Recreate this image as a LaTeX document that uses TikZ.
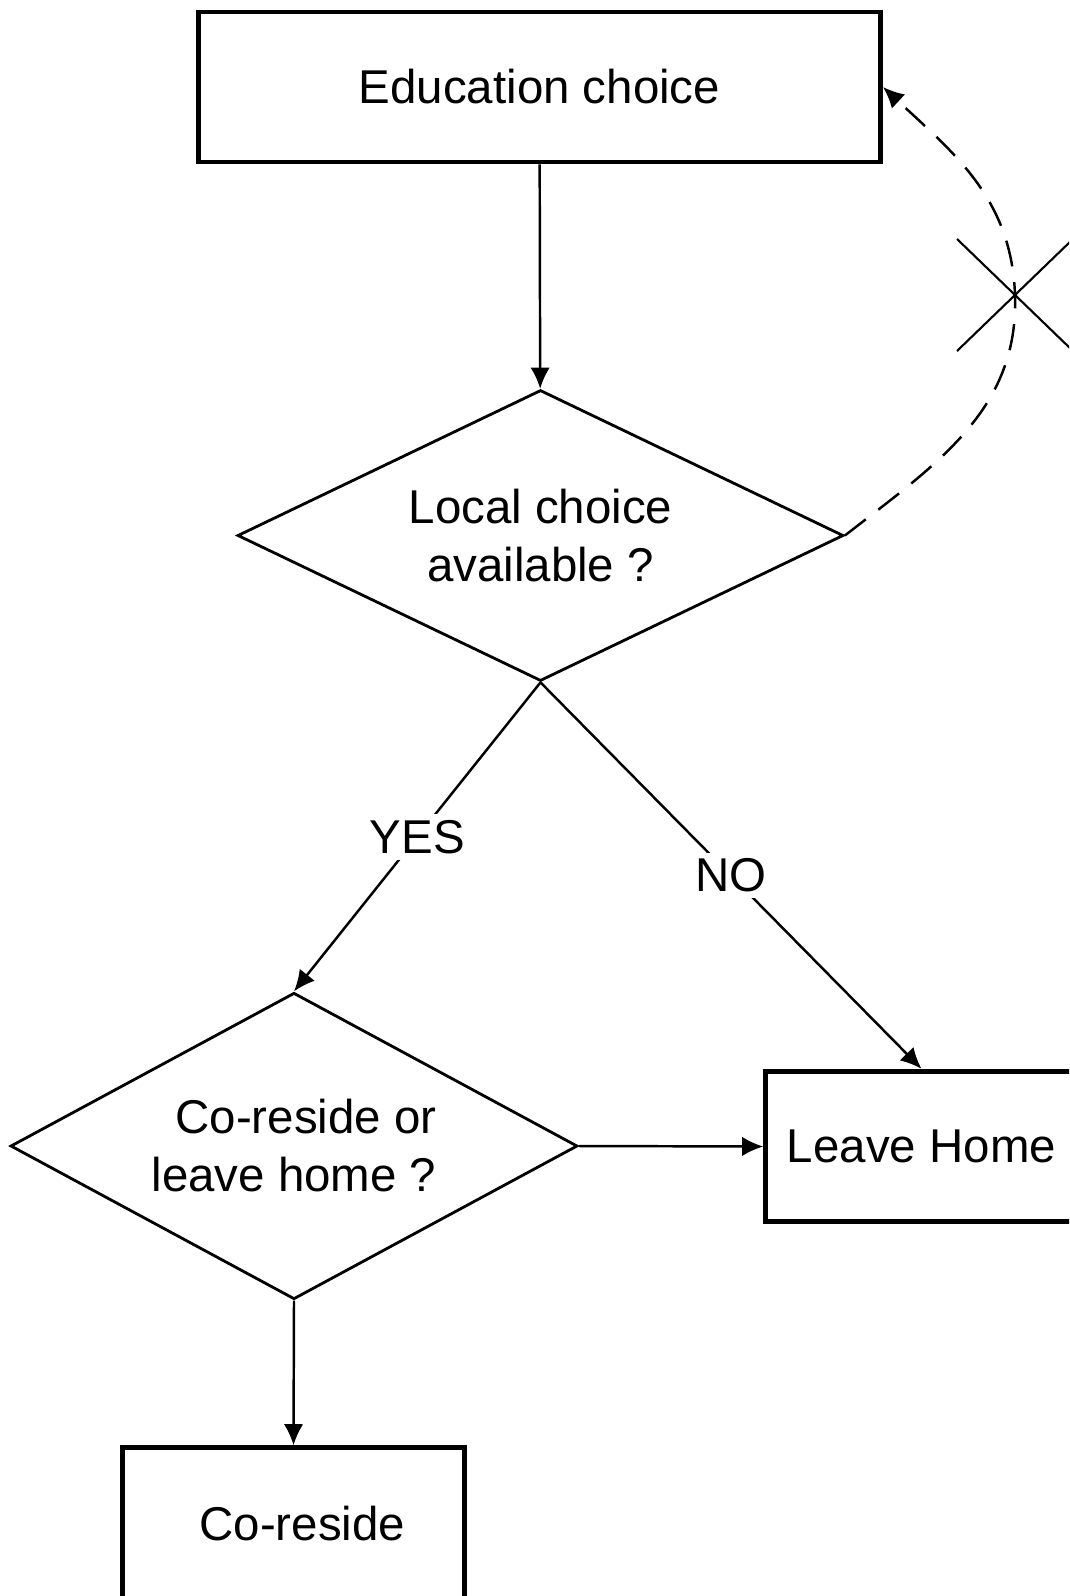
\documentclass[tikz,border=0pt]{standalone}
\usepackage{fontspec}
\setmainfont{Liberation Sans}
\usetikzlibrary{shapes.geometric,arrows.meta}

\tikzset{
  every node/.style={font=\fontsize{27}{33}\selectfont, align=center},
  stepbox/.style={draw, rectangle, line width=2.8pt},
  decision/.style={draw, diamond, aspect=2, inner sep=0pt, line width=1.6pt},
  flow/.style={draw, line width=1.4pt, ->, >={Latex[length=12pt,width=11pt]}},
}

\begin{document}
\begin{tikzpicture}
\useasboundingbox (0,0) rectangle (21.38,-31.92);
\clip (0,0) rectangle (21.38,-31.92);

\node[stepbox, minimum width=13.64cm, minimum height=3.00cm] (edu) at (10.79,-1.74) {Education choice};
\node[decision, minimum width=12.12cm, minimum height=5.82cm] (local) at (10.81,-10.71) {Local choice\\available ?};
\node[decision, minimum width=11.34cm, minimum height=6.13cm, align=right] (stay) at (5.88,-22.92) {Co-reside or\\leave home ?};
\node[stepbox, minimum width=6.23cm, minimum height=3.01cm] (leave) at (18.43,-22.93) {Leave Home};
\node[stepbox, minimum width=6.84cm, minimum height=3.05cm] (cores) at (5.87,-30.48) {\hspace{0.35cm}Co-reside};
\coordinate (xmark) at (20.30,-5.90);

\path[flow] (edu) -- (local);
\path[flow] (local.south) -- node[fill=white] {YES} (stay.north);
\path[flow] (local.south) -- node[fill=white] {NO} (leave.north);
\path[flow] (stay.east) -- (leave.west);
\path[flow] (stay.south) -- (cores.north);

% blocked way back
\path[flow, dashed, dash pattern=on 15pt off 9pt] (local.east) to[out=38,in=-88] (xmark) to[out=92,in=-43] (edu.east);
\draw[line width=1.2pt] (xmark) ++(-1.16,1.12) -- ++(2.32,-2.24);
\draw[line width=1.2pt] (xmark) ++(-1.16,-1.12) -- ++(2.32,2.24);
\end{tikzpicture}
\end{document}
